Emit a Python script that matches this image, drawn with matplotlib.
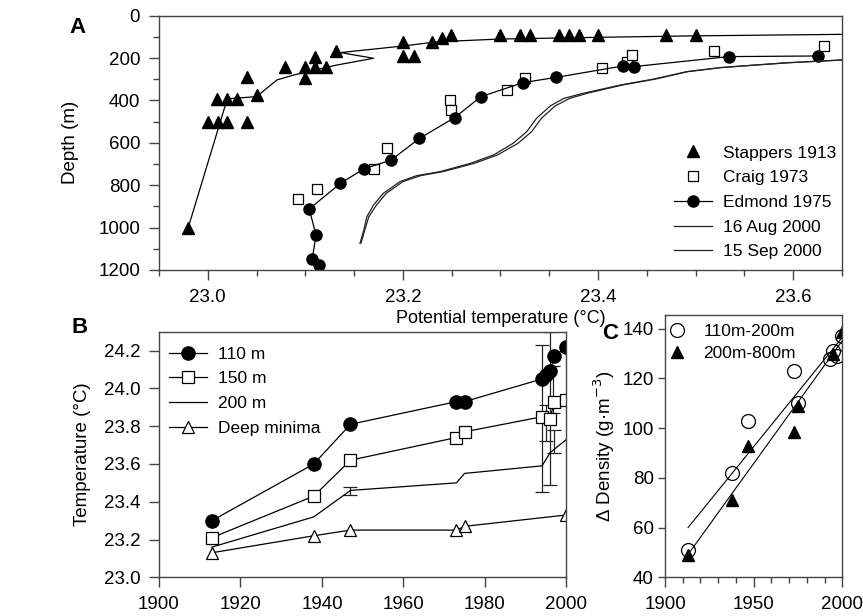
import matplotlib.pyplot as plt
from matplotlib.ticker import MultipleLocator

plt.rcParams['font.family'] = ['Liberation Sans', 'DejaVu Sans']
plt.rcParams['font.size'] = 13

# ---- panel A: temperature profiles
stappers_temp = [22.98, 23.00, 23.01, 23.02, 23.04, 23.009, 23.02, 23.03, 23.05, 23.04,
                 23.079, 23.10, 23.10, 23.11, 23.11, 23.121, 23.131, 23.20, 23.20, 23.211,
                 23.23, 23.24, 23.249, 23.30, 23.32, 23.33, 23.36, 23.37, 23.38, 23.40,
                 23.47, 23.50]
stappers_depth = [1000, 500, 500, 500, 500, 395, 395, 395, 375, 291,
                  241, 296, 241, 193, 241, 241, 165, 126, 190, 190,
                  126, 107, 91, 91, 91, 91, 91, 91, 91, 91,
                  91, 91]
stappers_line_temp = [22.98, 23.02, 23.05, 23.071, 23.088, 23.132, 23.170, 23.136, 23.20,
                      23.235, 23.30, 23.40, 23.50, 23.65]
stappers_line_depth = [1000, 392, 382, 303, 280, 233, 201, 174, 143, 123, 110, 102, 95, 88]

craig_temp = [23.092, 23.112, 23.170, 23.184, 23.248, 23.249, 23.307, 23.325, 23.404,
              23.43, 23.435, 23.519, 23.632]
craig_depth = [867, 818, 723, 623, 398, 445, 351, 296, 248, 217, 186, 167, 143]

edmond_temp = [23.1145, 23.107, 23.111, 23.104, 23.136, 23.160, 23.188, 23.217, 23.253,
               23.280, 23.323, 23.357, 23.426, 23.437, 23.534, 23.625]
edmond_depth = [1177, 1150, 1035, 912, 791, 723, 681, 579, 481, 382, 316, 291, 237, 240,
                193, 190]

ctd_depth = [1074, 1011, 949, 893, 838, 783, 755, 736, 697, 657, 602, 547, 484, 426, 390,
             366, 327, 299, 264, 245, 233, 222, 209]
aug_temp = [23.156, 23.160, 23.163, 23.170, 23.180, 23.197, 23.214, 23.238, 23.269, 23.293,
            23.313, 23.327, 23.337, 23.351, 23.365, 23.385, 23.423, 23.457, 23.491, 23.525,
            23.560, 23.594, 23.650]
sep_temp = [23.157, 23.161, 23.165, 23.173, 23.183, 23.200, 23.218, 23.241, 23.273, 23.297,
            23.318, 23.332, 23.342, 23.356, 23.371, 23.389, 23.425, 23.459, 23.492, 23.526,
            23.561, 23.595, 23.650]

# ---- panel B: temperature time series
years_110 = [1913, 1938, 1947, 1973, 1975, 1994, 1995, 1996, 1997, 2000]
temp_110 = [23.30, 23.60, 23.81, 23.93, 23.93, 24.05, 24.07, 24.09, 24.17, 24.22]
years_150 = [1913, 1938, 1947, 1973, 1975, 1994, 1996, 1997, 2000]
temp_150 = [23.21, 23.43, 23.62, 23.74, 23.77, 23.85, 23.84, 23.93, 23.94]
years_200 = [1913, 1938, 1947, 1973, 1975, 1994, 1996, 2000]
temp_200 = [23.16, 23.32, 23.46, 23.50, 23.55, 23.59, 23.66, 23.73]
years_deep = [1913, 1938, 1947, 1973, 1975, 2000]
temp_deep = [23.13, 23.22, 23.25, 23.25, 23.27, 23.33]
err_years = [1947, 1994, 1995, 1996, 1996.6, 1997]
err_low = [23.435, 23.45, 23.72, 23.49, 23.87, 23.66]
err_high = [23.48, 24.23, 23.91, 24.30, 24.12, 23.78]

# ---- panel C: density difference
years_c_circ = [1913, 1938, 1947, 1973, 1975, 1993, 1995, 1997, 2000]
dens_circ = [51, 82, 103, 123, 110, 128, 131, 129, 137]
years_c_tri = [1913, 1938, 1947, 1973, 1975, 1995, 2000]
dens_tri = [49, 71, 93, 98.5, 109, 130, 138.5]
fit_years = [1913, 2000]
fit_circ = [60, 136.5]
fit_tri = [49.2, 135.2]

fig = plt.figure(figsize=(8.63, 6.16), dpi=100)

def style(ax):
    for s in ax.spines.values():
        s.set_color('#444444')
        s.set_linewidth(1)
    ax.tick_params(which='both', direction='out', color='#444444', width=1,
                   labelsize=13.5, pad=6.5)
    ax.tick_params(which='major', length=7)
    ax.tick_params(which='minor', length=4)

# A
axA = fig.add_axes([0.1842, 0.5617, 0.7914, 0.4128])
axA.plot(stappers_line_temp, stappers_line_depth, color='black', lw=0.9)
hs, = axA.plot(stappers_temp, stappers_depth, '^', color='black', ms=8.5, ls='none')
hc, = axA.plot(craig_temp, craig_depth, 's', mfc='white', mec='black', mew=0.9, ms=7, ls='none')
he, = axA.plot(edmond_temp, edmond_depth, 'o-', color='black', lw=0.9, ms=8)
ha, = axA.plot(aug_temp, ctd_depth, color='#222222', lw=0.9)
hp, = axA.plot(sep_temp, ctd_depth, color='#222222', lw=0.9)
axA.set_xlim(22.95, 23.65)
axA.set_ylim(1200, 0)
axA.xaxis.set_major_locator(MultipleLocator(0.2))
axA.xaxis.set_minor_locator(MultipleLocator(0.05))
axA.yaxis.set_major_locator(MultipleLocator(200))
axA.yaxis.set_minor_locator(MultipleLocator(100))
axA.xaxis.set_major_formatter(plt.FormatStrFormatter('%.1f'))
style(axA)
axA.set_xlabel('Potential temperature (°C)', fontsize=13, labelpad=3)
axA.set_ylabel('Depth (m)', fontsize=13.5, labelpad=14)
axA.legend([hs, hc, he, ha, hp],
           ['Stappers 1913', 'Craig 1973', 'Edmond 1975', '16 Aug 2000', '15 Sep 2000'],
           loc='upper left', bbox_to_anchor=(0.754, 0.49), frameon=False, fontsize=12.5,
           handlelength=2.2, handletextpad=0.6, labelspacing=0.55, borderpad=0,
           borderaxespad=0, numpoints=1)
fig.text(0.090, 0.955, 'A', fontsize=16, fontweight='bold', ha='center', va='center')

# B
axB = fig.add_axes([0.1842, 0.0628, 0.4722, 0.3987])
axB.errorbar(err_years, [(l + h) / 2 for l, h in zip(err_low, err_high)],
             yerr=[(h - l) / 2 for l, h in zip(err_low, err_high)],
             fmt='none', ecolor='#222222', elinewidth=0.9, capsize=5, capthick=0.9)
axB.plot(years_110, temp_110, 'o-', color='black', lw=0.9, ms=9.5, label='110 m')
axB.plot(years_150, temp_150, 's-', color='black', mfc='white', mew=0.9, lw=0.9, ms=8.5,
         label='150 m')
axB.plot(years_200, temp_200, '-', color='black', lw=0.9, label='200 m')
axB.plot(years_deep, temp_deep, '^-', color='black', mfc='white', mew=0.9, lw=0.9, ms=9,
         label='Deep minima')
axB.set_xlim(1900, 2000)
axB.set_ylim(23.0, 24.3)
axB.xaxis.set_major_locator(MultipleLocator(20))
axB.yaxis.set_major_locator(MultipleLocator(0.2))
axB.yaxis.set_major_formatter(plt.FormatStrFormatter('%.1f'))
style(axB)
axB.set_ylabel('Temperature (°C)', fontsize=13.5, labelpad=9)
axB.legend(loc='upper left', bbox_to_anchor=(0.025, 0.94), frameon=False, fontsize=12.5,
           handlelength=2.2, handletextpad=0.6, labelspacing=0.55, borderpad=0,
           borderaxespad=0)
fig.text(0.092, 0.468, 'B', fontsize=16, fontweight='bold', ha='center', va='center')

# C
axC = fig.add_axes([0.7706, 0.0628, 0.2054, 0.4258])
axC.plot(fit_years, fit_circ, color='black', lw=0.8)
axC.plot(fit_years, fit_tri, color='black', lw=0.8)
axC.plot(years_c_tri, dens_tri, '^', color='black', ms=9, ls='none', label='200m-800m')
axC.plot(years_c_circ, dens_circ, 'o', mfc='none', mec='black', mew=0.9, ms=10, ls='none',
         label='110m-200m')
hC = axC.get_legend_handles_labels()
axC.legend([hC[0][1], hC[0][0]], [hC[1][1], hC[1][0]], loc='upper left',
           bbox_to_anchor=(0.02, 0.965), frameon=False, fontsize=12.5, handlelength=1.0,
           handletextpad=1.0, labelspacing=0.4, borderpad=0, borderaxespad=0, numpoints=1)
axC.set_xlim(1900, 2000)
axC.set_ylim(40, 145.5)
axC.xaxis.set_major_locator(MultipleLocator(50))
axC.xaxis.set_minor_locator(MultipleLocator(10))
axC.yaxis.set_major_locator(MultipleLocator(20))
style(axC)
axC.tick_params(axis='y', which='major', length=5, pad=3)
axC.set_ylabel('Δ Density (g·m$^{-3}$)', fontsize=13.5, labelpad=4)
fig.text(0.707, 0.458, 'C', fontsize=16, fontweight='bold', ha='center', va='center')

fig.savefig('out.png', dpi=100)
